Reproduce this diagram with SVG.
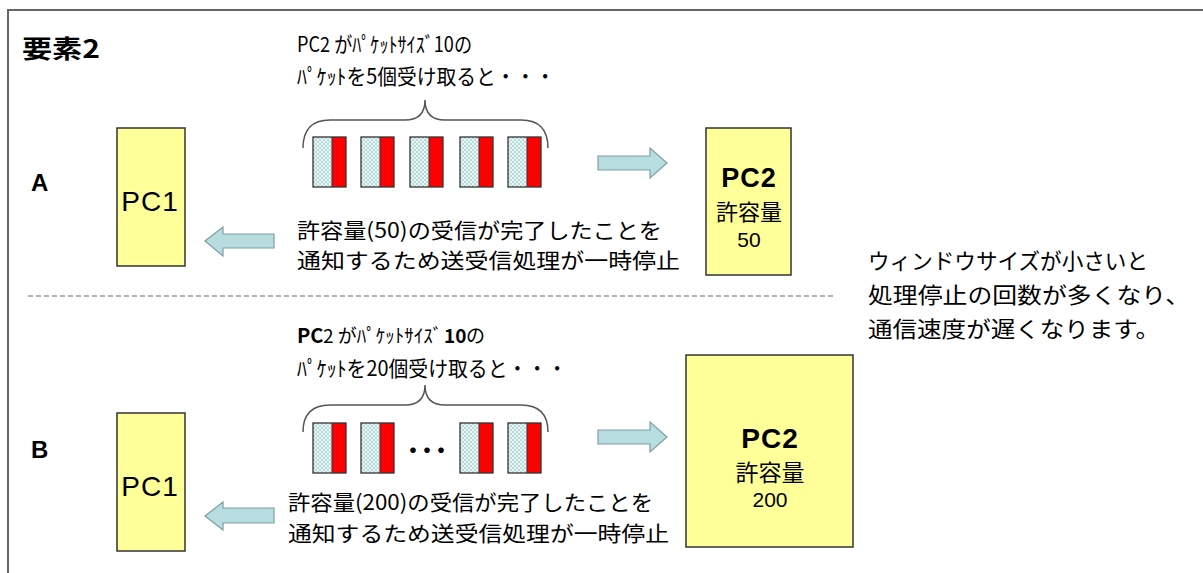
<svg xmlns="http://www.w3.org/2000/svg" width="1203" height="573" viewBox="0 0 1203 573">
<style>
.jp{font-family:"Noto Sans CJK JP","Liberation Sans",sans-serif;fill:#000}
.lat{font-family:"Liberation Sans","Noto Sans CJK JP",sans-serif;fill:#000}
.box{fill:#FFFF99;stroke:#333;stroke-width:1.5}
.arrow{fill:#B7DDE0;stroke:#7E9FA2;stroke-width:1.2}
.brace{fill:none;stroke:#555;stroke-width:1.5}
.pk{fill:url(#dots);stroke:none}
.red{fill:#FF0000;stroke:none}
.pko{fill:none;stroke:#333;stroke-width:1.3}
</style>
<defs>
<pattern id="dots" width="4" height="4" patternUnits="userSpaceOnUse">
<rect width="4" height="4" fill="#EAF5F5"/>
<rect width="2" height="2" fill="#B6DADA"/>
<rect x="2" y="2" width="2" height="2" fill="#B6DADA"/>
</pattern>
<g id="packet">
<rect class="pk" x="0" y="0" width="19" height="50"/>
<rect class="red" x="19" y="0" width="14" height="50"/>
<line x1="19" y1="0" x2="19" y2="50" stroke="#333" stroke-width="1"/>
<rect class="pko" x="0" y="0" width="33" height="50"/>
</g>
</defs>
<rect width="1203" height="573" fill="#fff"/>
<path d="M8,573 L8,10 L1203,10" fill="none" stroke="#666" stroke-width="2"/>
<text class="jp" x="22" y="58" font-size="25" font-weight="bold" textLength="78" lengthAdjust="spacingAndGlyphs">要素2</text>
<text class="lat" x="31" y="191" font-size="24" font-weight="bold">A</text>
<text class="lat" x="31" y="458" font-size="24" font-weight="bold">B</text>
<line x1="28" y1="296" x2="834" y2="296" stroke="#666" stroke-width="1" stroke-dasharray="5,3"/>

<text class="jp" x="297" y="52" font-size="21" textLength="175" lengthAdjust="spacingAndGlyphs">PC2 がﾊﾟｹｯﾄｻｲｽﾞ10の</text>
<text class="jp" x="297" y="84" font-size="21" textLength="258" lengthAdjust="spacingAndGlyphs">ﾊﾟｹｯﾄを5個受け取ると・・・</text>
<path class="brace" d="M303,148 Q303,120 330,120 L405,120 Q425,120 425,100 Q425,120 445,120 L521,120 Q548,120 548,148"/>

<g id="packetsA">
<use href="#packet" x="313" y="137"/>
<use href="#packet" x="361" y="137"/>
<use href="#packet" x="410" y="137"/>
<use href="#packet" x="460" y="137"/>
<use href="#packet" x="508" y="137"/>
</g>

<g id="pc1-a">
<rect class="box" x="117" y="128" width="68" height="138"/>
<text class="lat" x="150" y="211" font-size="28" text-anchor="middle" letter-spacing="1">PC1</text>
</g>
<g id="pc2-a">
<rect class="box" x="706" y="128" width="85" height="147"/>
<text class="lat" x="749" y="187" font-size="27" font-weight="bold" text-anchor="middle" letter-spacing="1">PC2</text>
<text class="jp" x="749" y="220" font-size="22" text-anchor="middle">許容量</text>
<text class="lat" x="749" y="247" font-size="21" text-anchor="middle">50</text>
</g>

<text class="jp" x="297" y="238" font-size="21" textLength="365" lengthAdjust="spacingAndGlyphs">許容量(50)の受信が完了したことを</text>
<text class="jp" x="297" y="268" font-size="21" textLength="383" lengthAdjust="spacingAndGlyphs">通知するため送受信処理が一時停止</text>

<text class="jp" x="868" y="269" font-size="22" textLength="280" lengthAdjust="spacingAndGlyphs">ウィンドウサイズが小さいと</text>
<text class="jp" x="868" y="303" font-size="22" textLength="322" lengthAdjust="spacingAndGlyphs">処理停止の回数が多くなり、</text>
<text class="jp" x="868" y="337" font-size="22" textLength="292" lengthAdjust="spacingAndGlyphs">通信速度が遅くなります。</text>

<text class="jp" x="297" y="343" font-size="20" font-weight="bold">PC</text>
<text class="jp" x="323" y="343" font-size="19">2 がﾊﾟｹｯﾄｻｲｽﾞ</text>
<text class="jp" x="444" y="343" font-size="19" font-weight="bold">10</text>
<text class="jp" x="466" y="343" font-size="19">の</text>
<text class="jp" x="297" y="376" font-size="21" textLength="270" lengthAdjust="spacingAndGlyphs">ﾊﾟｹｯﾄを20個受け取ると・・・</text>
<path class="brace" d="M303,432 Q303,405 330,405 L405,405 Q425,405 425,385 Q425,405 445,405 L521,405 Q548,405 548,432"/>

<g id="packetsB">
<use href="#packet" x="313" y="423"/>
<use href="#packet" x="361" y="423"/>
<use href="#packet" x="460" y="423"/>
<use href="#packet" x="508" y="423"/>
<text class="jp" x="402" y="458" font-size="22" font-weight="bold" letter-spacing="-8">・・・</text>
</g>

<g id="pc1-b">
<rect class="box" x="117" y="413" width="68" height="138"/>
<text class="lat" x="150" y="496" font-size="28" text-anchor="middle" letter-spacing="1">PC1</text>
</g>
<g id="pc2-b">
<rect class="box" x="686" y="355" width="167" height="192"/>
<text class="lat" x="770" y="448" font-size="28" font-weight="bold" text-anchor="middle" letter-spacing="1">PC2</text>
<text class="jp" x="770" y="481" font-size="23" text-anchor="middle">許容量</text>
<text class="lat" x="770" y="507" font-size="21" text-anchor="middle">200</text>
</g>

<text class="jp" x="288" y="510" font-size="21" textLength="365" lengthAdjust="spacingAndGlyphs">許容量(200)の受信が完了したことを</text>
<text class="jp" x="288" y="541" font-size="21" textLength="381" lengthAdjust="spacingAndGlyphs">通知するため送受信処理が一時停止</text>

<g id="connectors">
<path class="arrow" d="M598,156 L650,156 L650,148 L667,163 L650,178 L650,170 L598,170 Z"/>
<path class="arrow" d="M598,430 L650,430 L650,422 L667,437 L650,452 L650,444 L598,444 Z"/>
<path class="arrow" d="M205,241 L223,227 L223,234 L274,234 L274,248 L223,248 L223,256 Z"/>
<path class="arrow" d="M205,516 L223,502 L223,508 L274,508 L274,523 L223,523 L223,530 Z"/>
</g>
</svg>
